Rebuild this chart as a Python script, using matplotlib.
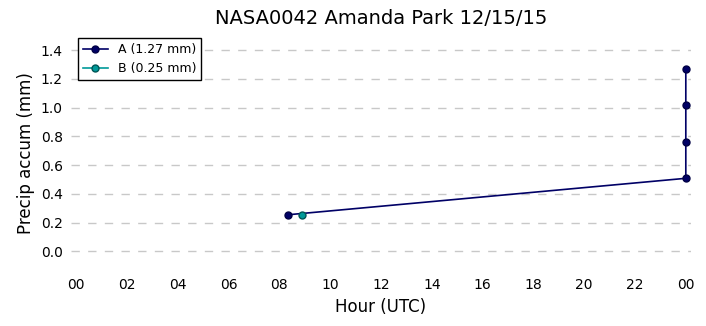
import matplotlib
matplotlib.use("Agg")
import matplotlib.pyplot as plt

hours_a = [8.33, 24.0, 24.0, 24.0, 24.0]
accum_a = [0.254, 0.508, 0.762, 1.016, 1.27]
hours_b = [8.88]
accum_b = [0.254]
label_a = "A (1.27 mm)"
label_b = "B (0.25 mm)"
xticks = list(range(0, 25, 2))
xticklabels = ["00", "02", "04", "06", "08", "10", "12", "14", "16", "18", "20", "22", "00"]
yticks = [0.0, 0.2, 0.4, 0.6, 0.8, 1.0, 1.2, 1.4]

fig = plt.figure(figsize=(7.06, 3.26), dpi=100)
ax = fig.add_axes([0.1006, 0.172, 0.878, 0.718])
ax.plot(hours_a, accum_a, "-o", color="#000066", markersize=5, lw=1.2,
        markeredgecolor="#000044", label=label_a)
ax.plot(hours_b, accum_b, "-o", color="#009999", markersize=5, lw=1.2,
        markeredgecolor="#005555", label=label_b)
ax.set_xlim(-0.2, 24.2)
ax.set_ylim(-0.13, 1.5)
ax.set_xticks(xticks)
ax.set_xticklabels(xticklabels)
ax.set_yticks(yticks)
ax.tick_params(length=0, labelsize=10, pad=6)
for s in ax.spines.values():
    s.set_visible(False)
ax.yaxis.grid(True, linestyle=(0, (6, 6)), color="#c8c8c8", lw=1)
ax.set_axisbelow(True)
ax.set_xlabel("Hour (UTC)", fontsize=12)
ax.set_ylabel("Precip accum (mm)", fontsize=12)
ax.set_title("NASA0042 Amanda Park 12/15/15", fontsize=14, pad=8.5)
leg = ax.legend(loc="upper left", bbox_to_anchor=(0.011, 0.991), borderaxespad=0,
                fontsize=9, fancybox=False, framealpha=1,
                edgecolor="black", handlelength=2)
leg.get_frame().set_linewidth(1)
fig.savefig("out.png", dpi=100)
